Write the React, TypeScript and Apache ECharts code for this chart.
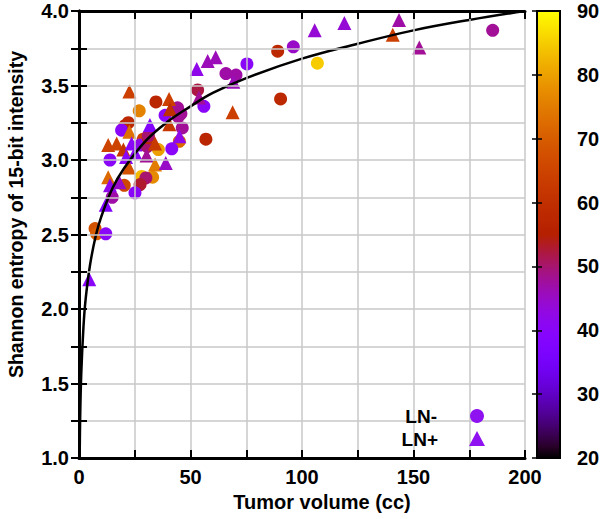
import React, { useEffect, useRef } from 'react';
import * as echarts from 'echarts';

// LN- (circles): tumor volume (cc), Shannon entropy, colour value
const lnNegVolume = [185.5, 89.1, 96.1, 106.9, 90.4, 75.3, 65.9, 70.4, 56.9, 56.0, 53.2, 27.0, 34.5, 38.6, 44.2, 45.7, 44.5, 46.3, 45.0, 22.1, 20.6, 19.1, 13.9, 28.8, 27.4, 35.6, 30.6, 31.1, 31.1, 41.6, 28.1, 33.0, 30.0, 27.4, 20.3, 25.1, 14.9, 7.2, 7.9, 12.0];
const lnNegEntropy = [3.87, 3.73, 3.76, 3.65, 3.41, 3.645, 3.58, 3.57, 3.14, 3.36, 3.47, 3.33, 3.39, 3.30, 3.35, 3.31, 3.29, 3.215, 3.125, 3.25, 3.23, 3.20, 3.0, 3.14, 3.10, 3.07, 3.09, 3.15, 3.163, 3.075, 2.89, 2.885, 2.88, 2.835, 2.83, 2.78, 2.75, 2.54, 2.505, 2.505];
const lnNegValue = [48, 58, 45, 85, 58, 40, 47, 47, 57, 40, 52, 76, 57, 40, 48, 48, 48, 48, 72, 58, 58, 40, 40, 64, 42, 80, 50, 58, 50, 40, 83, 77, 50, 53, 66, 40, 47, 68, 70, 40];

// LN+ (triangles)
const lnPosVolume = [119.0, 105.7, 143.5, 140.7, 152.6, 69.2, 68.9, 57.7, 61.3, 52.8, 53.8, 22.6, 40.4, 40.8, 40.5, 45.0, 22.6, 31.8, 16.9, 19.9, 23.6, 21.1, 25.1, 30.3, 34.1, 34.1, 38.9, 22.4, 13.1, 13.9, 18.1, 12.0, 4.6, 13.1];
const lnPosEntropy = [3.92, 3.87, 3.94, 3.84, 3.755, 3.525, 3.32, 3.665, 3.69, 3.61, 3.42, 3.46, 3.41, 3.34, 3.24, 3.16, 3.19, 3.235, 3.11, 3.07, 3.11, 3.02, 3.05, 3.03, 3.11, 2.97, 2.98, 2.95, 2.885, 2.83, 2.85, 2.70, 2.20, 3.10];
const lnPosValue = [44, 44, 47, 64, 48, 46, 64, 46, 46, 42, 48, 64, 64, 60, 62, 42, 73, 38, 65, 62, 40, 40, 40, 48, 63, 75, 45, 68, 72, 42, 45, 38, 40, 65];

// Fitted curve
const fitVolume = [0.3, 0.5, 1, 2, 3, 5, 7.5, 10, 15, 20, 30, 40, 50, 60, 75, 100, 125, 150, 175, 200];
const fitEntropy = [1.0, 1.25, 1.56, 1.88, 2.07, 2.3, 2.49, 2.62, 2.81, 2.94, 3.13, 3.26, 3.36, 3.45, 3.55, 3.68, 3.78, 3.87, 3.94, 4.0];

const legendNames = ['LN-', 'LN+'];
const colorMin = 20;
const colorMax = 90;

function paletteColor(t: number): string {
  const r = Math.sqrt(t);
  const g = t * t * t;
  const b = Math.max(0, Math.sin(2 * Math.PI * t));
  const h = (x: number) => Math.round(Math.min(1, Math.max(0, x)) * 255).toString(16).padStart(2, '0');
  return '#' + h(r) + h(g) + h(b);
}

const paletteStops: string[] = [];
for (let i = 0; i <= 40; i++) paletteStops.push(paletteColor(i / 40));

const FONT = 'Liberation Sans, Arial, Helvetica, sans-serif';

export default function App() {
  const ref = useRef<HTMLDivElement>(null);
  useEffect(() => {
    document.body.style.margin = '0';
    if (!ref.current) return;
    const chart = echarts.init(ref.current, null, { renderer: 'svg' });
    const gradient = new echarts.graphic.LinearGradient(
      0, 0, 0, 1,
      paletteStops.map((c, i) => ({ offset: 1 - i / (paletteStops.length - 1), color: c })).reverse()
    );
    const tickLabel = { color: '#000', fontSize: 20, fontWeight: 'bold' as const, fontFamily: FONT };
    const legendColor = '#8f12f0';
    const legendText = { fill: '#000', fontSize: 19, fontWeight: 'bold', fontFamily: FONT, align: 'right', verticalAlign: 'middle' };
    chart.setOption({
      animation: false,
      backgroundColor: '#fff',
      grid: [
        { left: 79, right: 75, top: 11, bottom: 61, outerBoundsMode: 'none', containLabel: false },
        { left: 537, width: 23, top: 11, bottom: 61, outerBoundsMode: 'none', containLabel: false },
      ],
      visualMap: {
        type: 'continuous',
        show: false,
        min: colorMin,
        max: colorMax,
        dimension: 2,
        seriesIndex: [0, 1],
        inRange: { color: paletteStops },
      },
      graphic: [
        { type: 'text', x: 437, y: 416, z: 20, style: { ...legendText, text: legendNames[0] } },
        { type: 'circle', z: 20, shape: { cx: 477, cy: 416, r: 7 }, style: { fill: legendColor } },
        { type: 'text', x: 438, y: 439, z: 20, style: { ...legendText, text: legendNames[1] } },
        { type: 'polygon', z: 20, shape: { points: [[477, 431], [485, 446], [469, 446]] }, style: { fill: legendColor } },
      ],
      xAxis: [
        {
          type: 'value', gridIndex: 0, position: 'bottom', min: 0, max: 200, interval: 25,
          name: 'Tumor volume (cc)', nameLocation: 'middle', nameGap: 31,
          nameTextStyle: { color: '#000', fontSize: 20, fontWeight: 'bold', fontFamily: FONT, padding: [0, 0, 0, 40] },
          axisLine: { show: true, lineStyle: { color: '#000', width: 3 } },
          axisTick: { show: true, inside: true, length: 8, lineStyle: { color: '#000', width: 2 } },
          axisLabel: { ...tickLabel, margin: 9, formatter: (v: number) => (v % 50 === 0 ? String(v) : '') },
          splitLine: { show: true, lineStyle: { color: '#c8c8c8', width: 1.5 } },
          z: 5,
        },
        {
          type: 'value', gridIndex: 0, position: 'top', min: 0, max: 200, interval: 25,
          axisLine: { show: true, lineStyle: { color: '#000', width: 3 } },
          axisTick: { show: true, inside: true, length: 8, lineStyle: { color: '#000', width: 2 } },
          axisLabel: { show: false },
          splitLine: { show: false },
          z: 5,
        },
        { type: 'value', gridIndex: 1, min: 0, max: 1, show: false },
      ],
      yAxis: [
        {
          type: 'value', gridIndex: 0, position: 'left', min: 1, max: 4, interval: 0.25,
          name: 'Shannon entropy of 15-bit intensity', nameLocation: 'middle', nameGap: 53,
          nameTextStyle: { color: '#000', fontSize: 19.5, fontWeight: 'bold', fontFamily: FONT, padding: [0, 0, 0, 40] },
          axisLine: { show: true, lineStyle: { color: '#000', width: 3 } },
          axisTick: { show: true, inside: true, length: 8, lineStyle: { color: '#000', width: 2 } },
          axisLabel: {
            ...tickLabel, margin: 10,
            formatter: (v: number) => (Math.abs(v * 2 - Math.round(v * 2)) < 1e-6 ? v.toFixed(1) : ''),
          },
          splitLine: { show: true, lineStyle: { color: '#c8c8c8', width: 1.5 } },
          z: 5,
        },
        {
          type: 'value', gridIndex: 0, position: 'right', min: 1, max: 4, interval: 0.25,
          axisLine: { show: true, lineStyle: { color: '#000', width: 3 } },
          axisTick: { show: true, inside: true, length: 8, lineStyle: { color: '#000', width: 2 } },
          axisLabel: { show: false },
          splitLine: { show: false },
          z: 5,
        },
        {
          type: 'value', gridIndex: 1, position: 'right', min: colorMin, max: colorMax, interval: 10,
          axisLine: { show: false },
          axisTick: { show: true, inside: true, length: 5, lineStyle: { color: '#000', width: 1.5 } },
          axisLabel: { ...tickLabel, margin: 17 },
          splitLine: { show: false },
          z: 10,
        },
        {
          type: 'value', gridIndex: 1, position: 'left', min: colorMin, max: colorMax, interval: 10,
          axisLine: { show: false },
          axisTick: { show: true, inside: true, length: 5, lineStyle: { color: '#000', width: 1.5 } },
          axisLabel: { show: false },
          splitLine: { show: false },
          z: 10,
        },
      ],
      series: [
        {
          name: legendNames[0], type: 'scatter', xAxisIndex: 0, yAxisIndex: 0,
          symbol: 'circle', symbolSize: 13,
          itemStyle: { opacity: 1 },
          data: lnNegVolume.map((v, i) => [v, lnNegEntropy[i], lnNegValue[i]]),
          z: 3,
        },
        {
          name: legendNames[1], type: 'scatter', xAxisIndex: 0, yAxisIndex: 0,
          symbol: 'triangle', symbolSize: 14,
          itemStyle: { opacity: 1 },
          data: lnPosVolume.map((v, i) => [v, lnPosEntropy[i], lnPosValue[i]]),
          z: 3,
        },
        {
          name: 'fit', type: 'line', xAxisIndex: 0, yAxisIndex: 0,
          data: fitVolume.map((v, i) => [v, fitEntropy[i]]),
          smooth: 0.4, showSymbol: false, symbol: 'none',
          lineStyle: { color: '#000', width: 2.5 },
          z: 4, silent: true,
        },
        {
          name: 'colorbar', type: 'custom', xAxisIndex: 2, yAxisIndex: 2,
          data: [[0, colorMin]],
          silent: true,
          z: 1,
          renderItem: (_params: any, api: any) => {
            const p0 = api.coord([0, colorMin]);
            const p1 = api.coord([1, colorMax]);
            return {
              type: 'rect',
              shape: { x: p0[0], y: p1[1], width: p1[0] - p0[0], height: p0[1] - p1[1] },
              style: { fill: gradient, stroke: '#000', lineWidth: 2 },
            };
          },
        },
      ],
    });
    return () => chart.dispose();
  }, []);
  return <div ref={ref} style={{ width: 600, height: 519 }} />;
}
